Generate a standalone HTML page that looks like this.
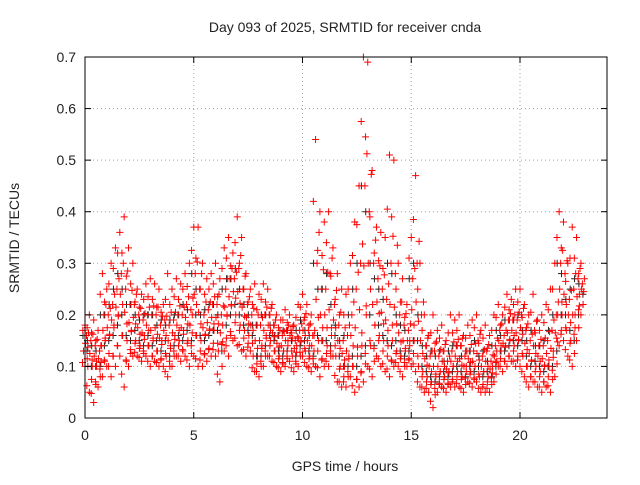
<!DOCTYPE html>
<html><head><meta charset="utf-8"><style>
body{margin:0;background:#fff}
svg text{font-family:"Liberation Sans",sans-serif;font-size:14px;fill:#222}
</style></head><body>
<svg id="chart" width="640" height="480" viewBox="0 0 640 480" xmlns="http://www.w3.org/2000/svg">
<rect width="640" height="480" fill="#fff"/>
<text x="345" y="32" text-anchor="middle">Day 093 of 2025, SRMTID for receiver cnda</text>
<text x="345" y="471" text-anchor="middle">GPS time / hours</text>
<text x="19" y="238" text-anchor="middle" transform="rotate(-90 19 238)">SRMTID / TECUs</text>
<g id="grid"></g><g id="marks"></g><g id="axes"></g>
</svg>
<script>
const xTicks=[0,5,10,15,20];
const yTicks=[0,0.1,0.2,0.3,0.4,0.5,0.6,0.7];
const times=[0,0.2,0.4,0.6,0.8,1,1.2,1.4,1.6,1.8,2,2.2,2.4,2.6,2.8,3,3.2,3.4,3.6,3.8,4,4.2,4.4,4.6,4.8,5,5.2,5.4,5.6,5.8,6,6.2,6.4,6.6,6.8,7,7.2,7.4,7.6,7.8,8,8.2,8.4,8.6,8.8,9,9.2,9.4,9.6,9.8,10,10.2,10.4,10.6,10.8,11,11.2,11.4,11.6,11.8,12,12.2,12.4,12.6,12.8,13,13.2,13.4,13.6,13.8,14,14.2,14.4,14.6,14.8,15,15.2,15.4,15.6,15.8,16,16.2,16.4,16.6,16.8,17,17.2,17.4,17.6,17.8,18,18.2,18.4,18.6,18.8,19,19.2,19.4,19.6,19.8,20,20.2,20.4,20.6,20.8,21,21.2,21.4,21.6,21.8,22,22.2,22.4,22.6,22.8];
const hi=[.18,.2,.19,.17,.28,.25,.3,.33,.36,.39,.33,.3,.25,.24,.26,.27,.26,.25,.22,.28,.25,.27,.26,.28,.3,.37,.37,.3,.27,.28,.3,.27,.33,.35,.32,.39,.35,.28,.25,.26,.24,.26,.25,.22,.2,.19,.21,.2,.18,.22,.24,.22,.2,.54,.4,.38,.4,.33,.28,.25,.24,.3,.38,.45,.7,.69,.48,.37,.36,.35,.51,.5,.3,.27,.22,.35,.47,.3,.2,.16,.2,.17,.18,.15,.2,.19,.2,.16,.18,.19,.2,.17,.18,.16,.2,.22,.2,.24,.23,.25,.25,.22,.2,.24,.19,.2,.22,.25,.3,.4,.38,.3,.37,.35,.3];
const lo=[.1,.05,.03,.06,.08,.1,.08,.1,.12,.06,.1,.12,.12,.11,.12,.1,.11,.1,.1,.08,.1,.12,.11,.12,.1,.12,.1,.1,.11,.12,.12,.07,.13,.12,.15,.14,.13,.12,.13,.09,.08,.1,.12,.11,.1,.09,.1,.11,.09,.1,.12,.1,.09,.1,.08,.1,.1,.12,.07,.06,.06,.08,.05,.06,.07,.1,.08,.12,.1,.09,.08,.1,.1,.08,.1,.1,.09,.06,.05,.05,.02,.05,.06,.05,.06,.06,.06,.05,.07,.06,.07,.05,.05,.05,.07,.1,.09,.1,.11,.1,.1,.08,.06,.07,.06,.05,.06,.05,.08,.14,.15,.12,.1,.15,.2];
const m1=[.13,.1,.1,.1,.14,.15,.16,.18,.2,.16,.15,.17,.15,.14,.16,.14,.15,.13,.15,.12,.14,.16,.15,.17,.15,.2,.16,.15,.16,.17,.17,.13,.18,.2,.22,.2,.18,.17,.16,.12,.12,.14,.16,.15,.13,.12,.13,.15,.12,.14,.15,.13,.12,.16,.15,.15,.14,.16,.12,.1,.1,.12,.1,.12,.14,.2,.14,.18,.16,.15,.14,.15,.13,.12,.13,.15,.15,.1,.09,.08,.07,.08,.09,.08,.09,.1,.09,.08,.1,.09,.1,.08,.09,.08,.1,.13,.13,.14,.15,.14,.15,.12,.1,.11,.1,.09,.1,.1,.13,.2,.2,.17,.15,.2,.24];
const m2=[.16,.15,.14,.13,.2,.2,.22,.25,.28,.25,.22,.22,.2,.19,.2,.2,.2,.18,.19,.18,.19,.2,.2,.22,.21,.28,.25,.2,.21,.22,.22,.2,.25,.27,.27,.29,.25,.22,.2,.18,.18,.2,.2,.18,.16,.16,.17,.17,.15,.17,.19,.17,.16,.3,.25,.25,.28,.22,.18,.15,.16,.2,.25,.3,.45,.4,.3,.27,.25,.23,.3,.28,.2,.18,.17,.27,.3,.2,.14,.12,.13,.12,.13,.11,.13,.14,.14,.12,.13,.13,.15,.12,.13,.11,.14,.17,.16,.19,.19,.19,.2,.17,.15,.17,.14,.14,.15,.17,.2,.3,.28,.23,.25,.27,.26];

const L=85,R=607,T=57,B=418;
const X=h=>L+h*(R-L)/24;
const Y=v=>B-v*(B-T)/0.7;
const NS='http://www.w3.org/2000/svg';
function mk(tag,at,parent){const e=document.createElementNS(NS,tag);for(const k in at)e.setAttribute(k,at[k]);parent.appendChild(e);return e;}
const grid=document.getElementById('grid'),axes=document.getElementById('axes'),marks=document.getElementById('marks');
xTicks.forEach(t=>{
  const g=mk('line',{x1:X(t),x2:X(t),y1:T,y2:B,stroke:'#a0a0a0','stroke-dasharray':'1,3'},grid);
  
  
  mk('line',{x1:X(t),x2:X(t),y1:B,y2:B-6,stroke:'#000'},axes);
  mk('line',{x1:X(t),x2:X(t),y1:T,y2:T+6,stroke:'#000'},axes);
  const tx=mk('text',{x:X(t),y:B+22,'text-anchor':'middle'},axes);tx.textContent=t;
  
  
});
yTicks.forEach(t=>{
  const g=mk('line',{x1:L,x2:R,y1:Y(t),y2:Y(t),stroke:'#a0a0a0','stroke-dasharray':'1,3'},grid);
  
  
  mk('line',{x1:L,x2:L+6,y1:Y(t),y2:Y(t),stroke:'#000'},axes);
  mk('line',{x1:R,x2:R-6,y1:Y(t),y2:Y(t),stroke:'#000'},axes);
  const tx=mk('text',{x:L-9,y:Y(t)+5,'text-anchor':'end'},axes);tx.textContent=t;
  
  
});
const frame=mk('rect',{x:L,y:T,width:R-L,height:B-T,fill:'none',stroke:'#000'},axes);


function plus(h,v,col,dx){
  const cx=X(h)+dx,cy=Y(v);
  const p=mk('path',{d:`M${cx-3.5} ${cy}h7M${cx} ${cy-3.5}v7`,stroke:col,'stroke-width':1,fill:'none'},marks);
  
  
}
times.forEach((t,i)=>{plus(t,m1[i],'#222',2);plus(t,m2[i],'#222',-2);});
times.forEach((t,i)=>{
  plus(t,lo[i],'#f00',0);plus(t,m1[i],'#f00',-1.5);plus(t,m2[i],'#f00',1.5);plus(t,hi[i],'#f00',0);
  plus(t,(lo[i]+m1[i])/2,'#f00',2.2);plus(t,(m2[i]+hi[i])/2,'#f00',-2.2);plus(t,(m1[i]+m2[i])/2,'#f00',0.5);
  plus(t,(lo[i]*3+m1[i])/4,'#f00',-2.5);plus(t,(m1[i]*3+m2[i])/4,'#f00',2.8);plus(t,(m2[i]*3+hi[i])/4,'#f00',3.5);
});
</script>
</body></html>
